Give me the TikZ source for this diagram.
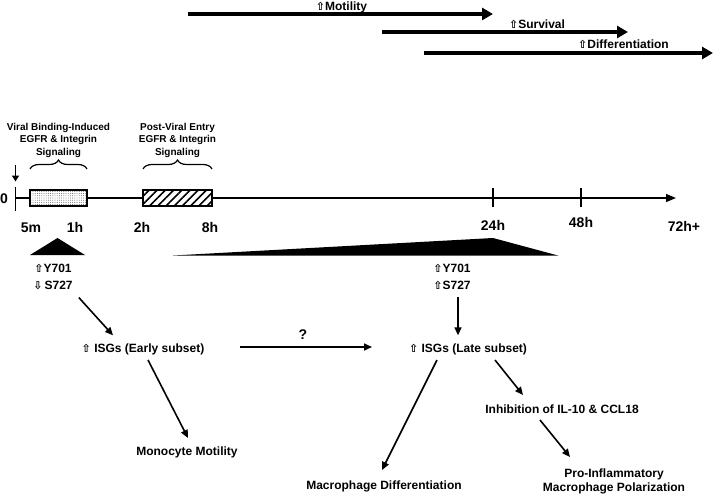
\documentclass[tikz,border=0pt]{standalone}
\usepackage{fontspec}
\setmainfont{Liberation Sans}
\newfontfamily\arwfont{DejaVu Sans}
\usetikzlibrary{arrows.meta,patterns.meta,decorations.pathreplacing}
\newcommand{\uparw}{{\arwfont\fontsize{11}{11}\selectfont ⇧}}
\newcommand{\dnarw}{{\arwfont\fontsize{11}{11}\selectfont ⇩}}

\begin{document}
\begin{tikzpicture}[x=1pt,y=-1pt,
    trend/.style={line width=4pt,-{Triangle[length=11pt,width=12pt]}},
    flow/.style={line width=1.6pt,-{Triangle[length=8pt,width=7pt]}},
    lbl/.style={inner sep=0pt,font=\bfseries\fontsize{12}{14}\selectfont,align=center},
    tlbl/.style={inner sep=0pt,font=\bfseries\fontsize{14}{16}\selectfont,anchor=base},
    blbl/.style={inner sep=0pt,font=\bfseries\fontsize{10}{12.5}\selectfont,align=center,anchor=south},
    tickline/.style={line width=1.5pt},
    brc/.style={decorate,decoration={brace,amplitude=9pt},line width=1.2pt}]
        \useasboundingbox (0,0) rectangle (713,495);
        \coordinate (mot0) at (188,14);   \coordinate (mot1) at (493,14);
        \coordinate (sur0) at (382,32);   \coordinate (sur1) at (628,32);
        \coordinate (dif0) at (424,53);   \coordinate (dif1) at (713,53);
        \draw[trend] (mot0) -- (mot1);
        \draw[trend] (sur0) -- (sur1);
        \draw[trend] (dif0) -- (dif1);
        \node[lbl,anchor=base] (motl) at (341.5,10.3) {\uparw Motility};
        \node[lbl,anchor=base] (surl) at (537,28.3) {\uparw Survival};
        \node[lbl,anchor=base] (difl) at (623.5,48.3) {\uparw Differentiation};

        \node[blbl] (vbl) at (58.5,157.5) {Viral Binding-Induced\\EGFR \& Integrin\\Signaling};
        \node[blbl] (pvl) at (177.5,157.5) {Post-Viral Entry\\EGFR \& Integrin\\Signaling};
        \draw[brc] (30,169) -- (87,169);
        \draw[brc] (143,169) -- (212,169);

        \coordinate (t0) at (15.5,198); \coordinate (tend) at (676,198);
        \draw[line width=1.3pt,-{Triangle[length=10pt,width=8pt]}] (t0) -- (tend);
        \draw[tickline] (15.5,187) -- (15.5,211);
        \foreach \x in {493,581} \draw[tickline] (\x,188) -- (\x,207);
        \draw[line width=1.4pt,fill=white] (30,190) rectangle (87,206);
        \fill[pattern={Dots[distance=2.2pt,radius=0.45pt]},pattern color=black!70] (30,190) rectangle (87,206);
        \draw[line width=1.4pt,fill=white] (143,190) rectangle (212,206);
        \fill[pattern={Lines[angle=45,distance=5.8pt,line width=1.6pt]}] (143,190) rectangle (212,206);
        \draw[line width=1.4pt] (30,190) rectangle (87,206) (143,190) rectangle (212,206);

        \coordinate (vtop) at (15.5,165); \coordinate (vbot) at (15.5,181.5);
        \draw[line width=1.8pt,-{Triangle[length=6pt,width=7pt]}] (vtop) -- (vbot);
        \node[tlbl] (zero) at (4,203) {0};
        \foreach \x/\y/\t/\n in {31/232/5m/m5,75/232/1h/h1,142/232/2h/h2,210/232/8h/h8,
                                 493/230/24h/h24,581/227/48h/h48,684/231/72h+/h72}
            \node[tlbl] (\n) at (\x,\y) {\t};

        \fill (30,255) -- (57.5,238) -- (85,255) -- cycle;
        \fill (173,255.5) -- (493,238) -- (558,255.5) -- cycle;

        \node[lbl,anchor=north] (peak1) at (53,263.5) {\uparw Y701\\[3pt]\dnarw\,S727};
        \node[lbl,anchor=north] (peak2) at (452,263.5) {\uparw Y701\\[3pt]\uparw S727};
        \node[lbl,anchor=base] (isge) at (143,352.3) {\uparw\ ISGs (Early subset)};
        \node[lbl,anchor=base] (isgl) at (468,352.3) {\uparw\ ISGs (Late subset)};
        \node[tlbl] (qm) at (303,339) {?};
        \node[lbl,anchor=base] (mono) at (187,455.3) {Monocyte Motility};
        \node[lbl,anchor=base] (macd) at (384,489.3) {Macrophage Differentiation};
        \node[lbl,anchor=base] (inh) at (562,413.3) {Inhibition of IL-10 \& CCL18};
        \node[lbl,anchor=north] (pol) at (614,468.5) {Pro-Inflammatory\\Macrophage Polarization};

        \draw[flow] ([shift={(6,8)}]peak1.south east) -- ([shift={(-30,-17)}]isge.base);
        \draw[flow] ([shift={(6,8)}]peak2.south) -- ([shift={(-10,-17)}]isgl.base);
        \draw[flow] ([shift={(97,-5.3)}]isge.base) -- ([shift={(-96,-5.3)}]isgl.base);
        \draw[flow] ([shift={(5,7.7)}]isge.base) -- ([shift={(1,-17.3)}]mono.base);
        \draw[flow] ([shift={(-31,7.7)}]isgl.base) -- ([shift={(-2,-19.3)}]macd.base);
        \draw[flow] ([shift={(27,7.7)}]isgl.base) -- ([shift={(-39,-18.3)}]inh.base);
        \draw[flow] ([shift={(-22,6.7)}]inh.base) -- ([shift={(-44,-11.5)}]pol.north);
    \end{tikzpicture}
\end{document}
